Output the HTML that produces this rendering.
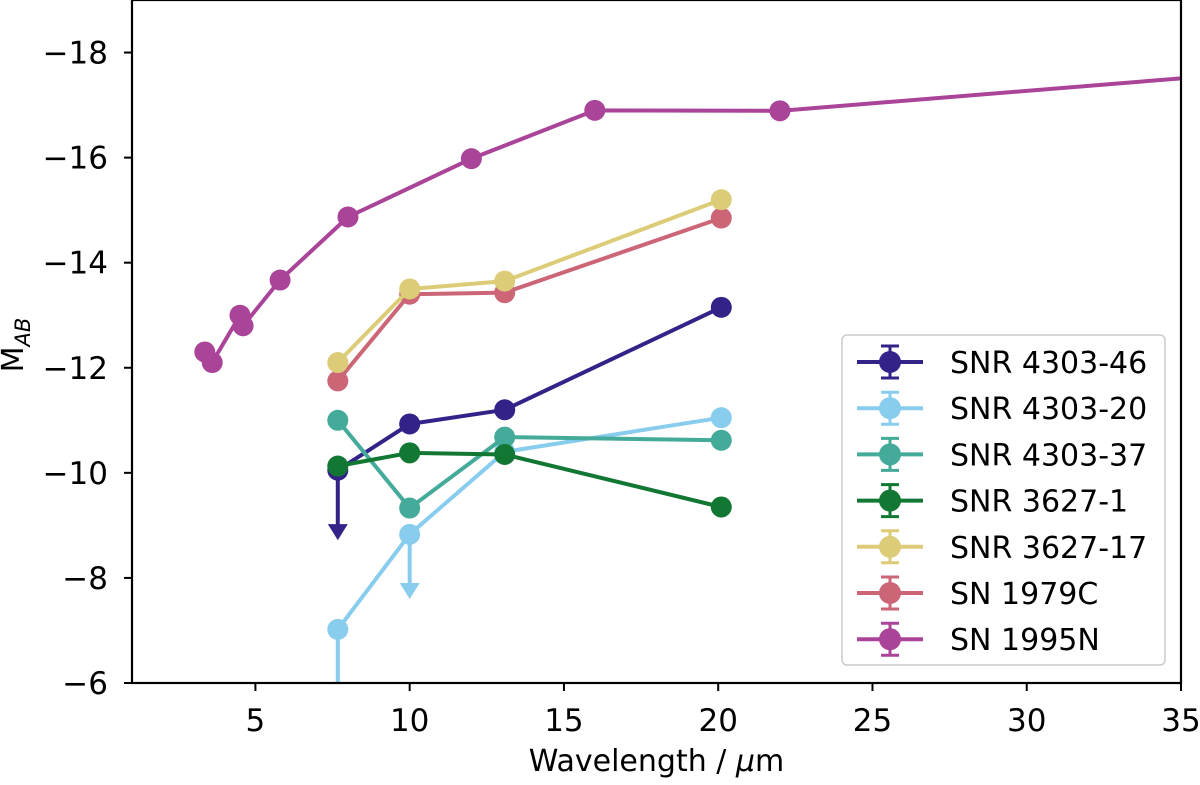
<!DOCTYPE html>
<html><head><meta charset="utf-8"><style>
html,body{margin:0;padding:0;background:#fff;}
svg text{font-family:"DejaVu Sans","Liberation Sans",sans-serif;fill:#000;}
</style></head><body>
<svg id="chart" width="1200" height="780" xmlns="http://www.w3.org/2000/svg">
<defs><clipPath id="clip"><rect x="132" y="0" width="1049" height="683"/></clipPath></defs>
<g id="plot" clip-path="url(#clip)"></g>
<g id="axes"></g>
<g id="legend"></g>
</svg>
<script>
const xTicks=[5,10,15,20,25,30,35];
const yTicks=[-18,-16,-14,-12,-10,-8,-6];
const seriesNames=["SNR 4303-46","SNR 4303-20","SNR 4303-37","SNR 3627-1","SNR 3627-17","SN 1979C","SN 1995N"];
const seriesColors=["#332288","#88CCEE","#44AA99","#117733","#DDCC77","#CC6677","#AA4499"];
const xSNR=[7.67,10,13.08,20.1];
const ySNR4303_46=[-10.05,-10.93,-11.2,-13.15];
const ySNR4303_20=[-7.02,-8.83,-10.4,-11.05];
const ySNR4303_37=[-11.0,-9.33,-10.68,-10.62];
const ySNR3627_1=[-10.13,-10.38,-10.35,-9.35];
const ySNR3627_17=[-12.1,-13.5,-13.65,-15.2];
const ySN1979C=[-11.75,-13.4,-13.43,-14.85];
const xSN1995N=[3.36,3.6,4.5,4.6,5.8,8,12,16,22,60];
const ySN1995N=[-12.3,-12.1,-13.0,-12.8,-13.67,-14.87,-15.98,-16.9,-16.89,-18.7];
const upperLimits=[[0,7.67,-10.05,-8.72],[1,10,-8.83,-7.6]];
const errorBars=[[1,7.67,-7.02,-4.0]];

const L=132,R=1181,T=0,B=683;
const xMin=1,xMax=35,yMin=-6,yMax=-19;
const sx=v=>L+(v-xMin)/(xMax-xMin)*(R-L);
const sy=v=>B-(v-yMin)/(yMax-yMin)*(B-T);
const NS="http://www.w3.org/2000/svg";
function mk(tag,attrs,parent){const e=document.createElementNS(NS,tag);for(const k in attrs)e.setAttribute(k,attrs[k]);parent.appendChild(e);return e;}
const plot=document.getElementById('plot'),axes=document.getElementById('axes'),leg=document.getElementById('legend');

const allX=[xSNR,xSNR,xSNR,xSNR,xSNR,xSNR,xSN1995N];
const allY=[ySNR4303_46,ySNR4303_20,ySNR4303_37,ySNR3627_1,ySNR3627_17,ySN1979C,ySN1995N];
const order=[6,5,4,0,1,2,3];
order.forEach(i=>{
  const g=mk('g',{},plot);
  
  
  const xs=allX[i],ys=allY[i],c=seriesColors[i];
  errorBars.filter(e=>e[0]===i).forEach(e=>{
    const l=mk('line',{x1:sx(e[1]),x2:sx(e[1]),y1:sy(e[2]),y2:sy(e[3]),stroke:c,'stroke-width':4},g);
    
    
  });
  upperLimits.filter(e=>e[0]===i).forEach(e=>{
    const x=sx(e[1]),y1=sy(e[2]),y2=sy(e[3]);
    const l=mk('line',{x1:x,x2:x,y1:y1,y2:y2-14,stroke:c,'stroke-width':4},g);
    
    
    const p=mk('polygon',{points:`${x-10},${y2-16} ${x+10},${y2-16} ${x},${y2}`,fill:c},g);
    
    
  });
  const pl=mk('polyline',{points:xs.map((x,k)=>sx(x)+','+sy(ys[k])).join(' '),fill:'none',stroke:c,'stroke-width':4,'stroke-linejoin':'round'},g);
  
  
  xs.forEach((x,k)=>{
    const m=mk('circle',{cx:sx(x),cy:sy(ys[k]),r:10.5,fill:c},g);
    
    
  });
});

const fr=mk('rect',{x:L,y:T,width:R-L,height:B-T,fill:'none',stroke:'#000','stroke-width':2.2},axes);


xTicks.forEach(v=>{
  const x=sx(v);
  const t=mk('line',{x1:x,x2:x,y1:B,y2:B+8,stroke:'#000','stroke-width':2},axes);
  
  
  const tx=mk('text',{x:x,y:731,'text-anchor':'middle','font-size':31},axes);
  tx.textContent=v;
  
  
});
yTicks.forEach(v=>{
  const y=sy(v);
  const t=mk('line',{x1:L-8,x2:L,y1:y,y2:y,stroke:'#000','stroke-width':2},axes);
  
  
  const tx=mk('text',{x:L-24,y:y+11,'text-anchor':'end','font-size':31},axes);
  tx.textContent=String(v).replace('-','\u2212');
  
  
});
const xt=mk('text',{x:(L+R)/2,y:771,'text-anchor':'middle','font-size':30},axes);
xt.innerHTML='Wavelength / <tspan font-style="italic">μ</tspan>m';


const yt=mk('text',{transform:'translate(23,345) rotate(-90)','text-anchor':'middle','font-size':30},axes);
yt.innerHTML='M<tspan font-size="21" font-style="italic" dy="7">AB</tspan>';



const lb=mk('rect',{x:842,y:335,width:323,height:330,rx:5,fill:'#fff',stroke:'#ccc','stroke-width':1.5,'fill-opacity':0.8},leg);


seriesNames.forEach((n,i)=>{
  const y=362+i*46.2,c=seriesColors[i];
  const g=mk('g',{},leg);
  
  
  mk('line',{x1:857,x2:923,y1:y,y2:y,stroke:c,'stroke-width':4},g);
  mk('line',{x1:890,x2:890,y1:y-16,y2:y+16,stroke:c,'stroke-width':3},g);
  mk('line',{x1:881,x2:899,y1:y-16,y2:y-16,stroke:c,'stroke-width':3},g);
  mk('line',{x1:881,x2:899,y1:y+16,y2:y+16,stroke:c,'stroke-width':3},g);
  mk('circle',{cx:890,cy:y,r:11,fill:c},g);
  const t=mk('text',{x:950,y:y+11,'font-size':30},g);
  t.textContent=n;
});
</script>
</body></html>
